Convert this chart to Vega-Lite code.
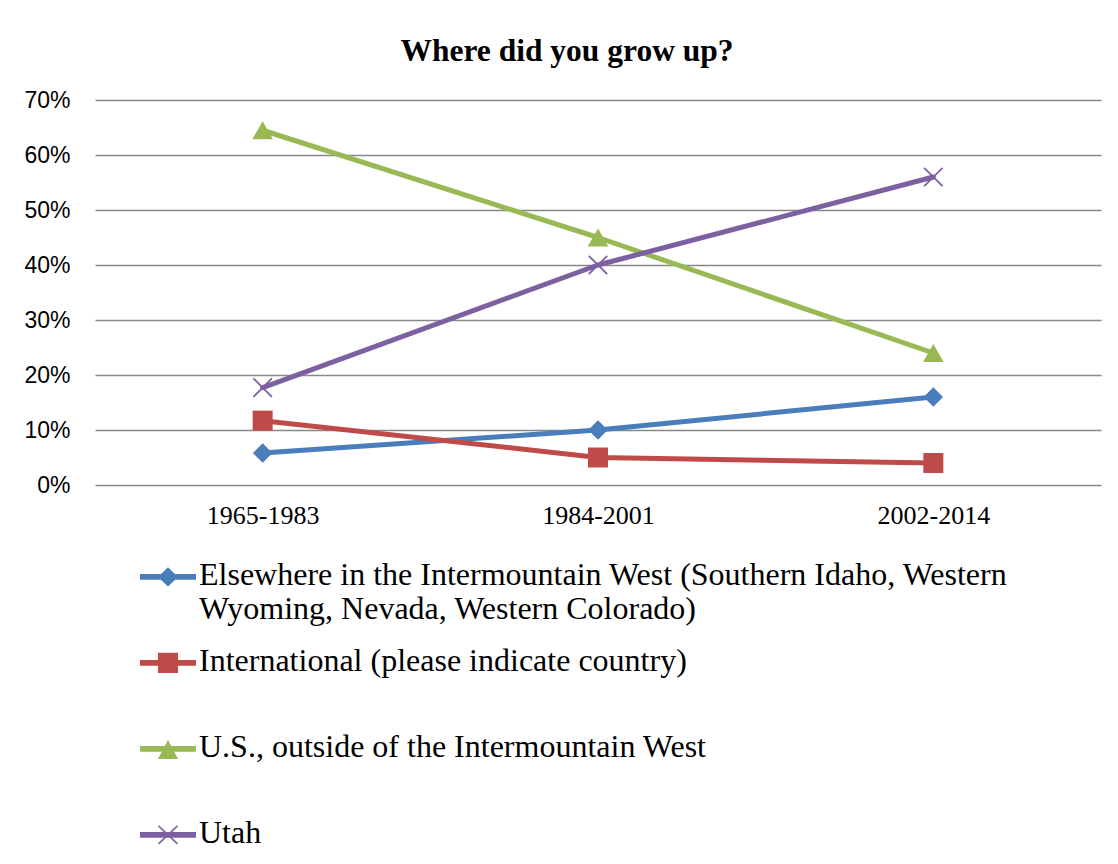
{
  "$schema": "https://vega.github.io/schema/vega-lite/v6.json",
  "width": 1006,
  "height": 385,
  "autosize": {"type": "none"},
  "padding": {"left": 95, "top": 100, "right": 17, "bottom": 379},
  "background": "white",
  "title": {
    "text": "Where did you grow up?",
    "font": "Liberation Serif",
    "fontSize": 31.5,
    "fontWeight": "bold",
    "color": "black",
    "anchor": "middle",
    "frame": "group",
    "dx": -31,
    "dy": 30,
    "baseline": "alphabetic",
    "offset": 27
  },
  "config": {
    "view": {"stroke": null}
  },
  "data": {
    "values": [
      {"series": "Elsewhere in the Intermountain West (Southern Idaho, Western Wyoming, Nevada, Western Colorado)", "period": "1965-1983", "value": 0.058},
      {"series": "Elsewhere in the Intermountain West (Southern Idaho, Western Wyoming, Nevada, Western Colorado)", "period": "1984-2001", "value": 0.10},
      {"series": "Elsewhere in the Intermountain West (Southern Idaho, Western Wyoming, Nevada, Western Colorado)", "period": "2002-2014", "value": 0.16},
      {"series": "International (please indicate country)", "period": "1965-1983", "value": 0.117},
      {"series": "International (please indicate country)", "period": "1984-2001", "value": 0.05},
      {"series": "International (please indicate country)", "period": "2002-2014", "value": 0.04},
      {"series": "U.S., outside of the Intermountain West", "period": "1965-1983", "value": 0.645},
      {"series": "U.S., outside of the Intermountain West", "period": "1984-2001", "value": 0.45},
      {"series": "U.S., outside of the Intermountain West", "period": "2002-2014", "value": 0.24},
      {"series": "Utah", "period": "1965-1983", "value": 0.177},
      {"series": "Utah", "period": "1984-2001", "value": 0.40},
      {"series": "Utah", "period": "2002-2014", "value": 0.56}
    ]
  },
  "encoding": {
    "x": {
      "field": "period",
      "type": "ordinal",
      "sort": null,
      "scale": {"padding": 0.5},
      "axis": {
        "title": null,
        "labelAngle": 0,
        "labelFont": "Liberation Serif",
        "labelFontSize": 26,
        "labelColor": "black",
        "labelPadding": 17,
        "ticks": false,
        "domain": false,
        "grid": false
      }
    },
    "y": {
      "field": "value",
      "type": "quantitative",
      "scale": {"domain": [0, 0.7], "nice": false},
      "axis": {
        "title": null,
        "values": [0, 0.1, 0.2, 0.3, 0.4, 0.5, 0.6, 0.7],
        "format": ".0%",
        "labelFont": "Liberation Sans",
        "labelFontSize": 23,
        "labelColor": "black",
        "labelPadding": 25,
        "ticks": false,
        "domain": false,
        "grid": true,
        "gridColor": "#888888",
        "gridWidth": 1.5,
        "gridOpacity": 1
      }
    },
    "color": {
      "field": "series",
      "type": "nominal",
      "scale": {
        "domain": [
          "Elsewhere in the Intermountain West (Southern Idaho, Western Wyoming, Nevada, Western Colorado)",
          "International (please indicate country)",
          "U.S., outside of the Intermountain West",
          "Utah"
        ],
        "range": ["#4A7EBB", "#BE4B48", "#98B954", "#7D60A0"]
      },
      "legend": {
        "orient": "none",
        "legendX": 45,
        "legendY": 457,
        "title": null,
        "padding": 0,
        "symbolSize": 3136,
        "symbolStrokeWidth": 0,
        "symbolOpacity": 1,
        "labelFont": "Liberation Serif",
        "labelFontSize": 32,
        "labelColor": "black",
        "labelOffset": 3,
        "labelLimit": 1000,
        "labelBaseline": "alphabetic",
        "rowPadding": 18,
        "labelExpr": "datum.label == 'Elsewhere in the Intermountain West (Southern Idaho, Western Wyoming, Nevada, Western Colorado)' ? ['Elsewhere in the Intermountain West (Southern Idaho, Western', 'Wyoming, Nevada, Western Colorado)'] : [datum.label, ' ']"
      }
    }
  },
  "layer": [
    {
      "mark": {"type": "line", "strokeWidth": 5, "strokeCap": "round", "strokeJoin": "round"}
    },
    {
      "transform": [{"filter": "datum.series == 'Elsewhere in the Intermountain West (Southern Idaho, Western Wyoming, Nevada, Western Colorado)'"}],
      "mark": {"type": "point", "shape": "diamond", "filled": true, "size": 380, "opacity": 1}
    },
    {
      "transform": [{"filter": "datum.series == 'International (please indicate country)'"}],
      "mark": {"type": "point", "shape": "square", "filled": true, "size": 400, "opacity": 1}
    },
    {
      "transform": [{"filter": "datum.series == 'U.S., outside of the Intermountain West'"}],
      "mark": {"type": "point", "shape": "triangle-up", "filled": true, "size": 430, "opacity": 1}
    },
    {
      "transform": [{"filter": "datum.series == 'Utah'"}],
      "mark": {"type": "point", "shape": "M-1,-1L1,1M1,-1L-1,1", "filled": false, "strokeWidth": 1.8, "size": 340, "opacity": 1}
    },
    {
      "transform": [{"filter": "false"}],
      "mark": {"type": "point", "filled": true, "opacity": 1},
      "encoding": {
        "shape": {
          "field": "series",
          "type": "nominal",
          "scale": {
            "domain": [
              "Elsewhere in the Intermountain West (Southern Idaho, Western Wyoming, Nevada, Western Colorado)",
              "International (please indicate country)",
              "U.S., outside of the Intermountain West",
              "Utah"
            ],
            "range": [
              "M-1,-0.39H1V-0.19H-1Z M0,-0.63L0.36,-0.29L0,0.05L-0.36,-0.29Z",
              "M-1,-0.39H1V-0.19H-1Z M-0.36,-0.65H0.36V0.07H-0.36Z",
              "M-1,-0.39H1V-0.19H-1Z M0,-0.61L0.36,0.07L-0.36,0.07Z",
              "M-1,-0.39H1V-0.19H-1Z M-0.36,-0.59L-0.32,-0.63L0.36,0.01L0.32,0.05Z M0.32,-0.63L0.36,-0.59L-0.32,0.05L-0.36,0.01Z"
            ]
          },
          "legend": {
            "orient": "none",
            "legendX": 45,
            "legendY": 457,
            "title": null,
            "padding": 0,
            "symbolSize": 3136,
            "symbolStrokeWidth": 0,
            "symbolOpacity": 1,
            "labelFont": "Liberation Serif",
            "labelFontSize": 32,
            "labelColor": "black",
            "labelOffset": 3,
            "labelLimit": 1000,
            "labelBaseline": "alphabetic",
            "rowPadding": 18,
            "labelExpr": "datum.label == 'Elsewhere in the Intermountain West (Southern Idaho, Western Wyoming, Nevada, Western Colorado)' ? ['Elsewhere in the Intermountain West (Southern Idaho, Western', 'Wyoming, Nevada, Western Colorado)'] : [datum.label, ' ']"
          }
        }
      }
    }
  ]
}
